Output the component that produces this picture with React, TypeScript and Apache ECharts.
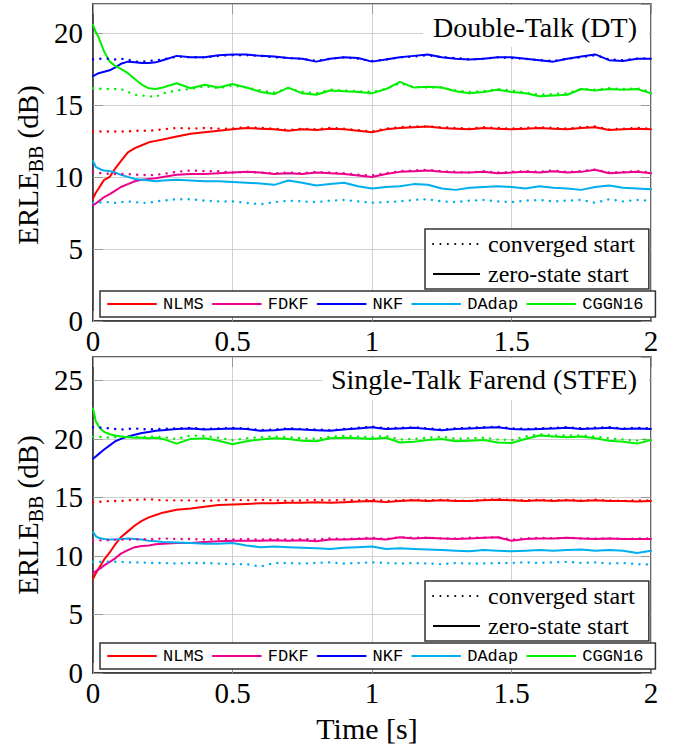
import React, { useEffect, useRef } from "react";
import * as echarts from "echarts";

// time axis [s]
const T = [
  0, 0.01, 0.02, 0.03, 0.04, 0.06, 0.08, 0.1, 0.125, 0.15, 0.175, 0.2, 0.225, 0.25,
  0.3, 0.35, 0.4, 0.45, 0.5, 0.55, 0.6, 0.65, 0.7, 0.75, 0.8, 0.85, 0.9, 0.95,
  1.0, 1.05, 1.1, 1.15, 1.2, 1.25, 1.3, 1.35, 1.4, 1.45, 1.5, 1.55, 1.6, 1.65, 1.7, 1.75, 1.8, 1.85, 1.9, 1.95, 2.0,
];

const ALGOS = ["NLMS", "FDKF", "NKF", "DAdap", "CGGN16"];
const STYLE_NAMES = ["converged start", "zero-state start"];
const X_TICKS = [0, 0.5, 1, 1.5, 2];
const Y_MAX_DT = 22;
const Y_MAX_ST = 27;
const TITLE_DT = "Double-Talk (DT)";
const TITLE_ST = "Single-Talk Farend (STFE)";

// ---------- Double-Talk (DT) ----------
const DT_NLMS = [
  8.5, 8.9, 9.2, 9.5, 9.8, 10.0, 10.6, 11.1, 11.7, 12.0, 12.2, 12.4, 12.5, 12.6,
  12.8, 13.0, 13.1, 13.2, 13.3, 13.4, 13.35, 13.3, 13.2, 13.3, 13.25, 13.35, 13.3, 13.2,
  13.1, 13.3, 13.4, 13.45, 13.5, 13.4, 13.35, 13.3, 13.4, 13.35, 13.3, 13.35, 13.4, 13.35, 13.3, 13.4, 13.45, 13.25, 13.3, 13.35, 13.3,
];
const DT_NLMS_C = [
  13.15, 13.15, 13.15, 13.15, 13.15, 13.15, 13.15, 13.15, 13.15, 13.2, 13.2, 13.2, 13.25, 13.3,
  13.4, 13.35, 13.4, 13.35, 13.35, 13.45, 13.4, 13.35, 13.25, 13.35, 13.3, 13.4, 13.35, 13.25,
  13.15, 13.35, 13.45, 13.5, 13.5, 13.45, 13.4, 13.35, 13.45, 13.4, 13.35, 13.4, 13.45, 13.4, 13.35, 13.45, 13.5, 13.3, 13.35, 13.4, 13.35,
];
const DT_FDKF = [
  8.05, 8.15, 8.3, 8.45, 8.6, 8.8, 9.05, 9.3, 9.5, 9.7, 9.8, 9.85, 9.9, 10.0,
  10.15, 10.2, 10.2, 10.25, 10.3, 10.35, 10.3, 10.2, 10.25, 10.2, 10.3, 10.25, 10.2, 10.1,
  10.0, 10.2, 10.35, 10.4, 10.45, 10.35, 10.3, 10.3, 10.35, 10.25, 10.3, 10.35, 10.3, 10.4, 10.3, 10.35, 10.5, 10.25, 10.3, 10.35, 10.25,
];
const DT_FDKF_C = [
  10.35, 10.3, 10.3, 10.25, 10.25, 10.2, 10.2, 10.2, 10.2, 10.15, 10.15, 10.1, 10.15, 10.2,
  10.35, 10.45, 10.4, 10.4, 10.3, 10.35, 10.3, 10.25, 10.3, 10.25, 10.35, 10.3, 10.25, 10.15,
  10.1, 10.25, 10.4, 10.45, 10.5, 10.4, 10.35, 10.3, 10.4, 10.3, 10.35, 10.4, 10.35, 10.45, 10.35, 10.4, 10.5, 10.3, 10.35, 10.4, 10.3,
];
const DT_NKF = [
  17.0, 17.1, 17.2, 17.25, 17.3, 17.4, 17.6, 17.85, 18.0, 17.95, 17.9, 17.9, 17.95, 18.1,
  18.4, 18.3, 18.3, 18.45, 18.5, 18.5, 18.4, 18.35, 18.25, 18.2, 18.0, 18.2, 18.3, 18.25,
  18.0, 18.15, 18.3, 18.4, 18.5, 18.3, 18.2, 18.15, 18.2, 18.3, 18.3, 18.2, 18.1, 18.0, 18.2, 18.35, 18.5, 18.1, 18.05, 18.2, 18.2,
];
const DT_NKF_C = [
  18.15, 18.15, 18.2, 18.2, 18.2, 18.2, 18.15, 18.2, 18.15, 18.0, 18.0, 18.05, 18.1, 18.15,
  18.35, 18.3, 18.3, 18.4, 18.45, 18.45, 18.4, 18.3, 18.25, 18.2, 18.05, 18.2, 18.3, 18.2,
  18.05, 18.15, 18.3, 18.35, 18.45, 18.3, 18.25, 18.15, 18.2, 18.3, 18.25, 18.2, 18.1, 18.05, 18.2, 18.3, 18.45, 18.15, 18.1, 18.2, 18.25,
];
const DT_DADAP = [
  11.1, 10.7, 10.6, 10.5, 10.45, 10.4, 10.3, 10.15, 10.0, 9.85, 9.8, 9.75, 9.7, 9.75,
  9.8, 9.75, 9.7, 9.7, 9.65, 9.6, 9.55, 9.45, 9.75, 9.6, 9.4, 9.5, 9.6, 9.35,
  9.2, 9.3, 9.35, 9.5, 9.45, 9.2, 9.1, 9.25, 9.3, 9.35, 9.3, 9.2, 9.35, 9.25, 9.2, 9.1, 9.3, 9.4, 9.25, 9.2, 9.15,
];
const DT_DADAP_C = [
  8.2, 8.2, 8.2, 8.25, 8.25, 8.25, 8.2, 8.25, 8.3, 8.25, 8.2, 8.2, 8.3, 8.35,
  8.45, 8.45, 8.35, 8.3, 8.3, 8.2, 8.1, 8.25, 8.35, 8.3, 8.25, 8.35, 8.4, 8.3,
  8.2, 8.25, 8.3, 8.4, 8.45, 8.3, 8.25, 8.35, 8.4, 8.3, 8.25, 8.35, 8.4, 8.3, 8.35, 8.4, 8.2, 8.45, 8.3, 8.4, 8.35,
];
const DT_CGGN = [
  20.55, 20.05, 19.7, 19.2, 18.7, 18.0, 17.7, 17.5, 17.2, 16.8, 16.4, 16.15, 16.1, 16.2,
  16.5, 16.15, 16.4, 16.2, 16.45, 16.2, 15.9, 15.75, 16.2, 15.8, 15.7, 16.0, 15.95, 15.9,
  15.8, 16.1, 16.6, 16.2, 16.25, 16.2, 15.95, 15.8, 15.9, 16.05, 15.9, 15.8, 15.6, 15.65, 15.7, 16.1, 16.0, 16.1, 16.05, 16.1, 15.8,
];
const DT_CGGN_C = [
  16.15, 16.15, 16.15, 16.1, 16.1, 16.1, 16.1, 16.1, 15.9, 15.7, 15.65, 15.6, 15.55, 15.8,
  16.0, 16.1, 16.3, 16.15, 16.35, 16.2, 16.0, 15.85, 16.15, 15.9, 15.8, 16.05, 16.0, 15.95,
  15.9, 16.1, 16.5, 16.25, 16.2, 16.2, 16.0, 15.9, 15.95, 16.1, 16.0, 15.85, 15.7, 15.75, 15.8, 16.1, 16.05, 16.15, 16.1, 16.15, 15.9,
];

// ---------- Single-Talk Farend (STFE) ----------
const ST_NLMS = [
  8.05, 8.5, 8.9, 9.3, 9.7, 10.3, 11.0, 11.6, 12.1, 12.6, 13.0, 13.3, 13.5, 13.7,
  13.95, 14.05, 14.2, 14.35, 14.4, 14.45, 14.5, 14.5, 14.55, 14.55, 14.6, 14.55, 14.6, 14.65,
  14.7, 14.6, 14.7, 14.75, 14.7, 14.75, 14.7, 14.7, 14.75, 14.8, 14.75, 14.7, 14.75, 14.7, 14.75, 14.7, 14.75, 14.7, 14.7, 14.65, 14.7,
];
const ST_NLMS_C = [
  14.6, 14.6, 14.6, 14.65, 14.65, 14.7, 14.7, 14.7, 14.75, 14.8, 14.8, 14.85, 14.8, 14.75,
  14.75, 14.75, 14.7, 14.75, 14.8, 14.75, 14.8, 14.75, 14.7, 14.75, 14.8, 14.75, 14.8, 14.75,
  14.8, 14.7, 14.75, 14.8, 14.75, 14.8, 14.75, 14.7, 14.8, 14.85, 14.8, 14.75, 14.8, 14.75, 14.8, 14.75, 14.8, 14.75, 14.7, 14.75, 14.75,
];
const ST_FDKF = [
  8.5, 8.7, 8.85, 9.0, 9.2, 9.5, 9.8, 10.2, 10.5, 10.75, 10.85, 10.9, 11.0, 11.05,
  11.1, 11.1, 11.2, 11.25, 11.3, 11.3, 11.3, 11.35, 11.3, 11.35, 11.25, 11.4, 11.4, 11.45,
  11.5, 11.4, 11.6, 11.5, 11.55, 11.5, 11.45, 11.5, 11.55, 11.6, 11.3, 11.45, 11.5, 11.5, 11.55, 11.5, 11.45, 11.5, 11.45, 11.45, 11.45,
];
const ST_FDKF_C = [
  11.3, 11.3, 11.3, 11.35, 11.35, 11.35, 11.4, 11.4, 11.4, 11.4, 11.45, 11.4, 11.45, 11.5,
  11.45, 11.45, 11.4, 11.45, 11.4, 11.45, 11.4, 11.45, 11.4, 11.45, 11.4, 11.5, 11.45, 11.5,
  11.55, 11.45, 11.6, 11.55, 11.55, 11.5, 11.5, 11.55, 11.55, 11.6, 11.4, 11.5, 11.55, 11.5, 11.55, 11.5, 11.5, 11.5, 11.45, 11.5, 11.5,
];
const ST_NKF = [
  18.3, 18.5, 18.7, 18.9, 19.1, 19.45, 19.8, 20.0, 20.2, 20.35, 20.5, 20.6, 20.7, 20.75,
  20.85, 20.9, 20.8, 20.85, 20.9, 20.85, 20.7, 20.75, 20.85, 20.8, 20.75, 20.7, 20.8, 20.9,
  21.0, 20.85, 20.9, 20.95, 20.85, 20.75, 20.85, 20.9, 20.95, 21.0, 20.85, 20.8, 20.85, 20.9, 20.95, 20.85, 20.9, 20.95, 20.85, 20.9, 20.85,
];
const ST_NKF_C = [
  21.0, 21.0, 21.0, 20.95, 20.95, 20.9, 20.85, 20.8, 20.85, 20.9, 20.85, 20.8, 20.85, 20.85,
  20.9, 20.95, 20.85, 20.9, 20.95, 20.9, 20.75, 20.8, 20.9, 20.85, 20.8, 20.75, 20.85, 20.95,
  21.05, 20.9, 20.95, 21.0, 20.9, 20.8, 20.9, 20.95, 21.0, 21.05, 20.9, 20.85, 20.9, 20.95, 21.0, 20.9, 20.95, 21.0, 20.9, 20.95, 20.9,
];
const ST_DADAP = [
  12.05, 11.7, 11.55, 11.5, 11.45, 11.4, 11.4, 11.45, 11.5, 11.45, 11.4, 11.3, 11.25, 11.2,
  11.15, 11.1, 11.05, 11.05, 11.1, 10.9, 10.75, 10.8, 10.75, 10.7, 10.65, 10.6, 10.7, 10.75,
  10.8, 10.6, 10.65, 10.6, 10.55, 10.5, 10.45, 10.4, 10.5, 10.45, 10.4, 10.45, 10.5, 10.45, 10.5, 10.55, 10.45, 10.5, 10.45, 10.25, 10.45,
];
const ST_DADAP_C = [
  9.5, 9.5, 9.5, 9.5, 9.5, 9.5, 9.5, 9.5, 9.45, 9.45, 9.45, 9.4, 9.4, 9.4,
  9.35, 9.4, 9.4, 9.35, 9.3, 9.3, 9.1, 9.4, 9.4, 9.35, 9.4, 9.45, 9.35, 9.4,
  9.45, 9.4, 9.35, 9.4, 9.35, 9.3, 9.4, 9.35, 9.35, 9.4, 9.4, 9.45, 9.4, 9.45, 9.5, 9.4, 9.45, 9.35, 9.4, 9.3, 9.25,
];
const ST_CGGN = [
  22.6, 21.5, 21.1, 20.8, 20.6, 20.4, 20.3, 20.2, 20.15, 20.1, 20.1, 20.05, 20.1, 20.0,
  19.6, 20.0, 20.05, 19.85, 19.55, 19.8, 19.95, 20.05, 20.0, 19.85, 19.8, 20.05, 20.1, 20.05,
  20.0, 20.1, 19.7, 19.75, 19.9, 20.0, 19.8, 19.85, 19.9, 19.7, 19.65, 20.0, 20.3, 20.2, 20.15, 20.2, 20.05, 19.85, 19.75, 19.6, 19.9,
];
const ST_CGGN_C = [
  20.2, 20.2, 20.2, 20.15, 20.15, 20.1, 20.15, 20.2, 20.2, 20.15, 20.15, 20.2, 20.2, 20.15,
  20.0, 20.3, 20.25, 20.1, 19.9, 20.05, 20.15, 20.2, 20.15, 20.05, 20.0, 20.2, 20.25, 20.2,
  20.15, 20.25, 19.95, 20.0, 20.1, 20.2, 20.0, 20.05, 20.1, 19.95, 19.9, 20.2, 20.4, 20.3, 20.3, 20.3, 20.2, 20.05, 19.95, 19.85, 20.05,
];

const COLORS: Record<string, string> = {
  NLMS: "#ff0000",
  FDKF: "#ec008c",
  NKF: "#0000ff",
  DAdap: "#00aeef",
  CGGN16: "#00f000",
};

const SERIF = "'Liberation Serif', 'Times New Roman', serif";
const MONO = "'Liberation Mono', 'DejaVu Sans Mono', monospace";
const DOTS = [0.1, 7.3];

function line(name: string, values: number[], color: string, axis: number, dotted: boolean) {
  return {
    type: "line",
    name,
    xAxisIndex: axis,
    yAxisIndex: axis,
    data: T.map((t, i) => [t, values[i]]),
    symbol: "none",
    showSymbol: false,
    silent: true,
    z: dotted ? 3 : 2,
    itemStyle: { color },
    lineStyle: { color, width: dotted ? 2.4 : 2, type: dotted ? DOTS : "solid", cap: "round" },
  };
}

function xAx(gi: number, pos: string, main: boolean) {
  return {
    type: "value",
    gridIndex: gi,
    position: pos,
    min: 0,
    max: 2,
    interval: 0.5,
    axisLine: { show: main, onZero: false, lineStyle: { color: "#333", width: 1.5 } },
    axisTick: { show: true, inside: true, length: 10, lineStyle: { color: "#999", width: 1 } },
    axisLabel: {
      show: main,
      fontFamily: SERIF,
      fontSize: 29,
      color: "#000",
      margin: 5,
      formatter: (v: number) => (X_TICKS.includes(v) ? String(v) : ""),
    },
    splitLine: { show: main, lineStyle: { color: "#d0d0d0", width: 1 } },
  };
}

function yAx(gi: number, pos: string, max: number, main: boolean) {
  return {
    type: "value",
    gridIndex: gi,
    position: pos,
    min: 0,
    max,
    interval: 5,
    axisLine: { show: main, onZero: false, lineStyle: { color: "#333", width: 1.5 } },
    axisTick: { show: true, inside: true, length: 10, lineStyle: { color: "#999", width: 1 } },
    axisLabel: { show: main, fontFamily: SERIF, fontSize: 29, color: "#000", margin: 10, showMaxLabel: false },
    splitLine: { show: main, lineStyle: { color: "#d0d0d0", width: 1 } },
  };
}

function algoLegend(top: number) {
  return {
    data: ALGOS,
    left: 100,
    top,
    orient: "horizontal",
    selectedMode: false,
    backgroundColor: "#fff",
    borderColor: "#333",
    borderWidth: 1.5,
    borderRadius: 0,
    padding: [4, 12, 4, 7],
    itemWidth: 48,
    itemHeight: 14,
    itemGap: 8,
    itemStyle: { opacity: 0 },
    textStyle: { fontFamily: MONO, fontSize: 17, color: "#000", lineHeight: 18, padding: [0, 0, 0, 2] },
  };
}

function styleLegend(top: number) {
  return {
    data: STYLE_NAMES,
    left: 425,
    top,
    orient: "vertical",
    selectedMode: false,
    backgroundColor: "#fff",
    borderColor: "#333",
    borderWidth: 1.5,
    borderRadius: 0,
    padding: [3, 14, 3, 7],
    itemWidth: 47,
    itemHeight: 14,
    itemGap: 6,
    itemStyle: { opacity: 0 },
    textStyle: { fontFamily: SERIF, fontSize: 24, color: "#000", lineHeight: 22, padding: [0, 0, 0, 3] },
  };
}

function yLabel(cy: number) {
  return {
    type: "text",
    x: 28,
    y: cy,
    rotation: Math.PI / 2,
    z: 100,
    style: {
      text: "{a|ERLE}{b|BB}{a| (dB)}",
      align: "center",
      verticalAlign: "middle",
      fill: "#000",
      rich: {
        a: { fontFamily: SERIF, fontSize: 29, lineHeight: 36, fill: "#000" },
        b: { fontFamily: SERIF, fontSize: 20, lineHeight: 20, verticalAlign: "bottom", fill: "#000" },
      },
    },
  };
}

function titleBox(x0: number, y0: number, w: number, h: number, text: string, cy: number) {
  return [
    { type: "rect", z: 99, shape: { x: x0, y: y0, width: w, height: h }, style: { fill: "#fff" } },
    {
      type: "text",
      z: 100,
      x: 637,
      y: cy,
      style: { text, align: "right", verticalAlign: "middle", fontFamily: SERIF, fontSize: 28, fill: "#000" },
    },
  ];
}

export default function App() {
  const ref = useRef<HTMLDivElement>(null);
  useEffect(() => {
    if (!ref.current) return;
    const chart = echarts.init(ref.current, null, { renderer: "svg" });
    const dt = [DT_NLMS, DT_FDKF, DT_NKF, DT_DADAP, DT_CGGN];
    const dtC = [DT_NLMS_C, DT_FDKF_C, DT_NKF_C, DT_DADAP_C, DT_CGGN_C];
    const st = [ST_NLMS, ST_FDKF, ST_NKF, ST_DADAP, ST_CGGN];
    const stC = [ST_NLMS_C, ST_FDKF_C, ST_NKF_C, ST_DADAP_C, ST_CGGN_C];
    const series: any[] = [];
    ALGOS.forEach((a, i) => series.push(line(a, dt[i], COLORS[a], 0, false)));
    ALGOS.forEach((a, i) => series.push(line(a + " (conv)", dtC[i], COLORS[a], 0, true)));
    ALGOS.forEach((a, i) => series.push(line(a, st[i], COLORS[a], 1, false)));
    ALGOS.forEach((a, i) => series.push(line(a + " (conv)", stC[i], COLORS[a], 1, true)));
    series.push({
      type: "line", name: STYLE_NAMES[0], xAxisIndex: 0, yAxisIndex: 0, data: [], symbol: "none",
      itemStyle: { color: "#000" }, lineStyle: { color: "#000", width: 2.4, type: DOTS, cap: "round" },
    });
    series.push({
      type: "line", name: STYLE_NAMES[1], xAxisIndex: 0, yAxisIndex: 0, data: [], symbol: "none",
      itemStyle: { color: "#000" }, lineStyle: { color: "#000", width: 2, type: "solid" },
    });

    const option: any = {
      animation: false,
      backgroundColor: "#fff",
      grid: [
        { left: 93, top: 4, width: 558, height: 317, show: true, borderColor: "#333", borderWidth: 1.5, backgroundColor: "transparent" },
        { left: 93, top: 357, width: 558, height: 316, show: true, borderColor: "#333", borderWidth: 1.5, backgroundColor: "transparent" },
      ],
      xAxis: [xAx(0, "bottom", true), xAx(1, "bottom", true), xAx(0, "top", false), xAx(1, "top", false)],
      yAxis: [
        yAx(0, "left", Y_MAX_DT, true),
        yAx(1, "left", Y_MAX_ST, true),
        yAx(0, "right", Y_MAX_DT, false),
        yAx(1, "right", Y_MAX_ST, false),
      ],
      legend: [algoLegend(291), algoLegend(643), styleLegend(229), styleLegend(581)],
      graphic: [
        yLabel(165),
        yLabel(515),
        ...titleBox(423, 5, 226, 42, TITLE_DT, 27),
        ...titleBox(322, 358, 327, 42, TITLE_ST, 379),
        {
          type: "text",
          z: 100,
          x: 367,
          y: 728,
          style: { text: "Time [s]", align: "center", verticalAlign: "middle", fontFamily: SERIF, fontSize: 30, fill: "#000" },
        },
      ],
      series,
    };
    chart.setOption(option);
    return () => chart.dispose();
  }, []);
  return <div ref={ref} style={{ position: "fixed", left: 0, top: 0, width: 674, height: 744 }} />;
}
